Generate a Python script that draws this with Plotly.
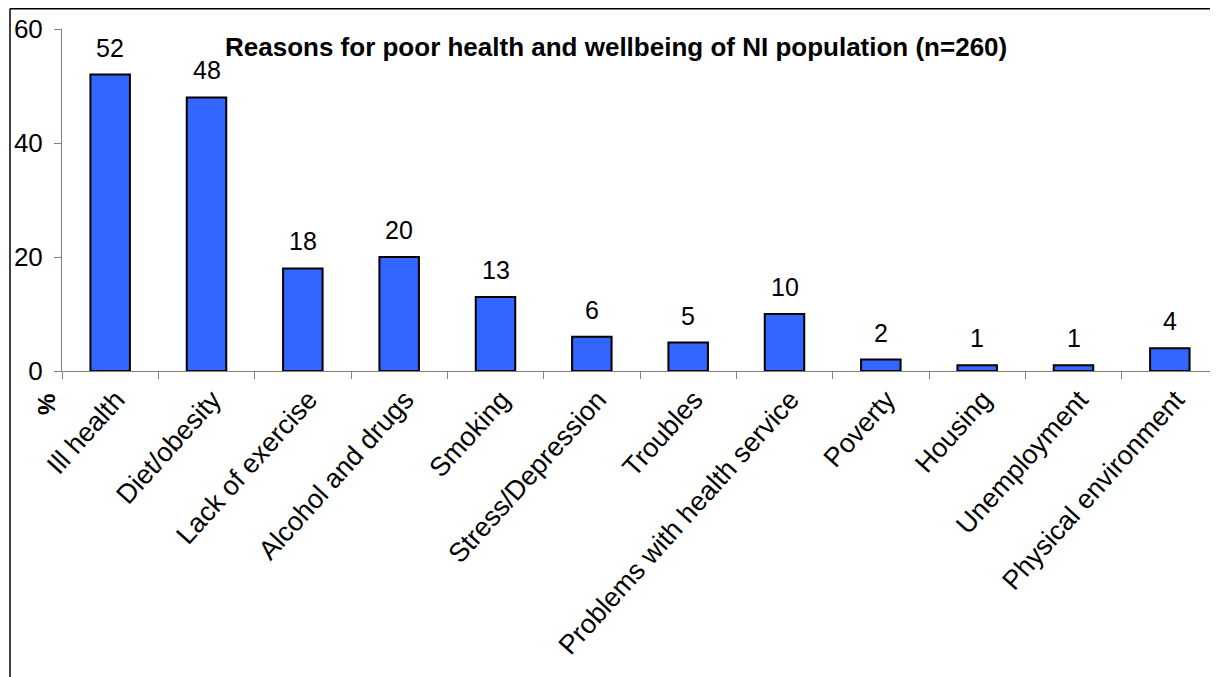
import plotly.graph_objects as go

categories = ["Ill health", "Diet/obesity", "Lack of exercise", "Alcohol and drugs",
              "Smoking", "Stress/Depression", "Troubles", "Problems with health service",
              "Poverty", "Housing", "Unemployment", "Physical environment"]
values = [52, 48, 18, 20, 13, 6, 5, 10, 2, 1, 1, 4]
y_ticks = [0, 20, 40, 60]
title_text = "Reasons for poor health and wellbeing of NI population (n=260)"
y_title = "%"

# page body has an 8px margin; work in screen pixels and convert
OFF = 8
W, H = 1218 - OFF, 677 - OFF
ML, MR, MT, MB = 62 - OFF, 0, 29 - OFF, H - (371 - OFF)
PW = W - ML - MR
PH = H - MT - MB

def px(x):
    return (x - OFF - ML) / PW

def py(y):
    return (H - MB - (y - OFF)) / PH

FONT = "Arial, Liberation Sans, sans-serif"

fig = go.Figure()
fig.add_trace(go.Bar(
    x=categories, y=values,
    marker=dict(color="#3366FF", line=dict(color="black", width=2)),
    width=0.41,
    cliponaxis=False,
))

annotations = []
for c, v in zip(categories, values):
    annotations.append(dict(x=c, y=v, xref="x", yref="y", text=str(v), showarrow=False,
                            yanchor="bottom", yshift=11,
                            font=dict(family=FONT, size=25, color="black")))
annotations.append(dict(x=px(616), y=py(47), xref="paper", yref="paper", text="<b>" + title_text + "</b>",
                        showarrow=False, xanchor="center", yanchor="middle",
                        font=dict(family=FONT, size=26, color="black")))
annotations.append(dict(x=px(46), y=py(405), xref="paper", yref="paper", text="<b>" + y_title + "</b>",
                        showarrow=False, xanchor="center", yanchor="middle", textangle=-90,
                        font=dict(family=FONT, size=24, color="black")))

shapes = [
    dict(type="line", xref="paper", yref="paper", x0=px(10), x1=px(10), y0=py(8.7), y1=py(H + 20),
         line=dict(color="black", width=1.5)),
    dict(type="line", xref="paper", yref="paper", x0=px(10), x1=px(W + 20), y0=py(8.7), y1=py(8.7),
         line=dict(color="black", width=1.5)),
    dict(type="line", xref="paper", yref="paper", x0=px(1217), x1=px(1217), y0=py(8.7), y1=py(H + 20),
         line=dict(color="#d0d0d0", width=1)),
]

fig.update_layout(
    width=W, height=H,
    margin=dict(l=ML, r=MR, t=MT, b=MB, pad=0),
    paper_bgcolor="white", plot_bgcolor="white",
    showlegend=False,
    annotations=annotations,
    shapes=shapes,
    font=dict(family=FONT, size=24, color="black"),
)
fig.update_xaxes(
    showgrid=False, showline=True, linecolor="#808080", linewidth=1,
    ticks="outside", tickson="boundaries", ticklen=7, tickcolor="#808080",
    tickangle=-48, tickfont=dict(family=FONT, size=27, color="black"),
    ticklabelstandoff=1, ticklabelshift=6,
    range=[-0.5, len(categories) - 0.5],
)
fig.update_yaxes(
    range=[0, 60], tickvals=y_ticks, showgrid=False, zeroline=False,
    showline=True, linecolor="#808080", linewidth=1,
    ticks="outside", ticklen=7, tickcolor="#808080",
    tickfont=dict(family=FONT, size=26, color="black"),
    ticklabelstandoff=6,
)

fig.write_html("out.html")
